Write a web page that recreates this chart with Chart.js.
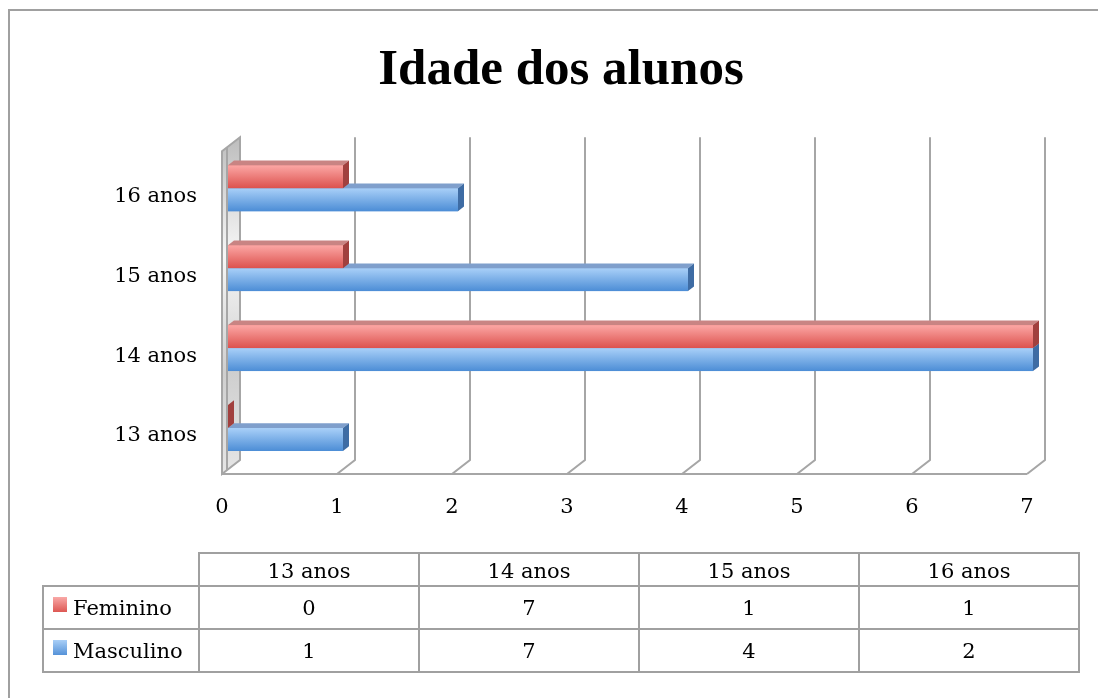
<!DOCTYPE html>
<html lang="pt">
<head>
  <meta charset="UTF-8" />
  <title>Idade dos alunos</title>
  <script src="https://cdn.jsdelivr.net/npm/chart.js"></script>
  <style>
    body {
      margin: 0;
      width: 1098px;
      height: 698px;
      overflow: hidden;
      position: relative;
      background: #fff;
    }
    #frame {
      position: absolute;
      left: 8px;
      top: 9px;
      width: 1200px;
      height: 800px;
      border-left: 2px solid #a0a0a0;
      border-top: 2px solid #a0a0a0;
    }
    canvas {
      position: absolute;
      left: 0;
      top: 0;
    }
    #dataTable {
      position: absolute;
      left: 42px;
      top: 552px;
      border-collapse: collapse;
      table-layout: fixed;
      font-family: 'DejaVu Serif', serif;
      font-size: 21px;
      color: #000;
    }
    #dataTable td {
      border: 2px solid #a0a0a0;
      text-align: center;
      padding: 0;
      white-space: nowrap;
    }
    #dataTable tr.head td { height: 29px; padding-top: 2px; }
    #dataTable tr.row td { height: 41px; }
    #dataTable td.blank { border-top: hidden; border-left: hidden; }
    #dataTable td.name { text-align: left; padding-left: 9px; }
    .swatch {
      display: inline-block;
      width: 14px;
      height: 15px;
      margin-right: 6px;
      vertical-align: 3px;
    }
  </style>
</head>
<body>
  <div id="frame"></div>
  <canvas id="ageChart" width="1098" height="698"></canvas>
  <table id="dataTable"></table>

  <script>
    const categories = ['13 anos', '14 anos', '15 anos', '16 anos'];
    const feminino = [0, 7, 1, 1];
    const masculino = [1, 7, 4, 2];
    const xMin = 0, xMax = 7;

    // colours: front face top/bottom, top face, side face
    const redFaces = { hi: '#fca7a5', lo: '#dc524e', top: '#c98483', side: '#a1403e', key: 'linear-gradient(#f9a9a7, #dd5753)' };
    const blueFaces = { hi: '#a9d0f8', lo: '#4c8dd6', top: '#7f9fcc', side: '#3e6ca4', key: 'linear-gradient(#a9cff7, #5592d8)' };

    // full depth of the 3d box, bars sit in the middle third
    const DX = 18, DY = -14;

    const box3d = {
      id: 'box3d',
      afterLayout(chart) {
        // centre the title over the whole frame, not the plot area
        if (chart.titleBlock) {
          chart.titleBlock.left = 24;
          chart.titleBlock.right = 1098;
        }
      },
      beforeDatasetsDraw(chart) {
        const { ctx, chartArea: a, scales: { x } } = chart;
        const floorY = a.bottom + 6;
        const topY = a.top - 11;
        const fx = v => x.getPixelForValue(v) - 6;
        ctx.save();
        ctx.lineWidth = 2;
        ctx.strokeStyle = '#a6a6a6';

        // left wall
        const x0 = fx(xMin);
        const g = ctx.createLinearGradient(0, topY, 0, floorY);
        g.addColorStop(0, '#bdbdbd');
        g.addColorStop(0.35, '#f7f7f7');
        g.addColorStop(0.7, '#cfcfcf');
        g.addColorStop(1, '#e6e6e6');
        ctx.fillStyle = g;
        ctx.beginPath();
        ctx.moveTo(x0, floorY);
        ctx.lineTo(x0, topY - DY);
        ctx.lineTo(x0 + DX, topY);
        ctx.lineTo(x0 + DX, floorY + DY);
        ctx.closePath();
        ctx.fill();
        ctx.stroke();
        ctx.beginPath();
        ctx.moveTo(x0 + 5, topY - DY - 4);
        ctx.lineTo(x0 + 5, floorY - 4);
        ctx.stroke();

        // back grid lines with floor diagonals
        for (let v = xMin + 1; v <= xMax; v++) {
          ctx.beginPath();
          ctx.moveTo(fx(v) + DX, topY);
          ctx.lineTo(fx(v) + DX, floorY + DY);
          ctx.lineTo(fx(v), floorY);
          ctx.stroke();
        }
        // front floor edge
        ctx.beginPath();
        ctx.moveTo(fx(xMin), floorY);
        ctx.lineTo(fx(xMax), floorY);
        ctx.stroke();
        ctx.restore();
      },
      afterDatasetsDraw(chart) {
        const { ctx } = chart;
        const bars = [];
        chart.data.datasets.forEach((ds, i) => {
          chart.getDatasetMeta(i).data.forEach(el => bars.push({ el, f: ds.faces }));
        });
        // lower bars first so upper ones overlap their top faces
        bars.sort((p, q) => q.el.y - p.el.y);
        const bx = DX / 3, by = DY / 3;
        ctx.save();
        bars.forEach(({ el, f }) => {
          const { x, y, base, height } = el.getProps(['x', 'y', 'base', 'height'], true);
          const t = y - height / 2, b = y + height / 2;
          const g = ctx.createLinearGradient(0, t, 0, b);
          g.addColorStop(0, f.hi);
          g.addColorStop(1, f.lo);
          ctx.fillStyle = g;
          ctx.fillRect(base, t, x - base, b - t);
          ctx.fillStyle = f.top;
          ctx.beginPath();
          ctx.moveTo(base, t);
          ctx.lineTo(base + bx, t + by);
          ctx.lineTo(x + bx, t + by);
          ctx.lineTo(x, t);
          ctx.closePath();
          ctx.fill();
          ctx.fillStyle = f.side;
          ctx.beginPath();
          ctx.moveTo(x, t);
          ctx.lineTo(x + bx, t + by);
          ctx.lineTo(x + bx, b + by);
          ctx.lineTo(x, b);
          ctx.closePath();
          ctx.fill();
        });
        ctx.restore();
      }
    };

    const ctx = document.getElementById('ageChart').getContext('2d');
    const chart = new Chart(ctx, {
      type: 'bar',
      data: {
        labels: categories,
        datasets: [
          { label: 'Feminino', data: feminino, backgroundColor: redFaces.lo, faces: redFaces },
          { label: 'Masculino', data: masculino, backgroundColor: blueFaces.lo, faces: blueFaces }
        ]
      },
      options: {
        indexAxis: 'y',
        responsive: false,
        devicePixelRatio: 1,
        animation: false,
        categoryPercentage: 0.575,
        barPercentage: 1,
        layout: { padding: { left: 0, right: 65, top: 0, bottom: 170 } },
        plugins: {
          legend: { display: false },
          tooltip: { enabled: false },
          title: {
            display: true,
            text: 'Idade dos alunos',
            color: '#000',
            font: { family: 'Liberation Serif', size: 51, weight: 'bold' },
            padding: { top: 40, bottom: 47 }
          }
        },
        scales: {
          x: {
            min: xMin,
            max: xMax,
            grid: { display: false, drawTicks: false },
            border: { display: false },
            ticks: {
              stepSize: 1,
              color: '#000',
              labelOffset: -6,
              padding: 27,
              font: { family: 'DejaVu Serif', size: 21 }
            },
            afterFit: s => { s.height = 60; }
          },
          y: {
            reverse: true,
            grid: { display: false, drawTicks: false },
            border: { display: false },
            ticks: {
              color: '#000',
              labelOffset: 8,
              padding: 31,
              font: { family: 'DejaVu Serif', size: 21 }
            },
            afterFit: s => { s.width = 228; }
          }
        }
      },
      plugins: [box3d]
    });

    // data table under the chart
    const table = document.getElementById('dataTable');
    const colgroup = document.createElement('colgroup');
    [156, 220, 220, 220, 220].forEach(w => {
      const c = document.createElement('col');
      c.style.width = w + 'px';
      colgroup.appendChild(c);
    });
    table.appendChild(colgroup);
    let html = '<tr class="head"><td class="blank"></td>' +
      categories.map(c => '<td>' + c + '</td>').join('') + '</tr>';
    [['Feminino', feminino, redFaces], ['Masculino', masculino, blueFaces]].forEach(([name, vals, f]) => {
      html += '<tr class="row"><td class="name"><span class="swatch" style="background:' + f.key + '"></span>' + name + '</td>' +
        vals.map(v => '<td>' + v + '</td>').join('') + '</tr>';
    });
    table.insertAdjacentHTML('beforeend', html);
  </script>
</body>
</html>
